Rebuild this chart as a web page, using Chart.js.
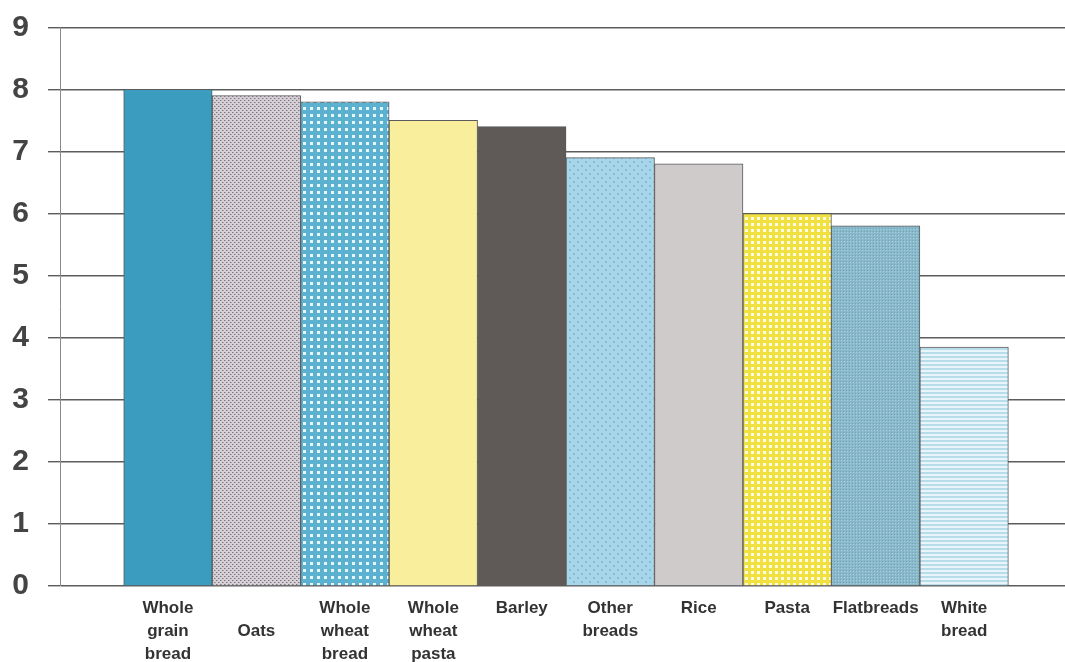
<!DOCTYPE html>
<html>
<head>
<meta charset="utf-8">
<title>Grain foods</title>
<script src="https://cdn.jsdelivr.net/npm/chart.js@4/dist/chart.umd.min.js"></script>
<style>
  html, body { margin: 0; padding: 0; background: #ffffff; }
  #wrap { width: 1065px; height: 662px; }
</style>
</head>
<body>
<div id="wrap"><canvas id="chart" width="1065" height="662"></canvas></div>
<script>
// Categories (multi-line labels) and their scores
const categories = [
  ['Whole', 'grain', 'bread'],
  ['', 'Oats'],
  ['Whole', 'wheat', 'bread'],
  ['Whole', 'wheat', 'pasta'],
  ['Barley'],
  ['Other', 'breads'],
  ['Rice'],
  ['Pasta'],
  ['Flatbreads'],
  ['White', 'bread']
];
const scores = [8.0, 7.9, 7.8, 7.5, 7.4, 6.9, 6.8, 6.0, 5.8, 3.85];
const yTicks = [0, 1, 2, 3, 4, 5, 6, 7, 8, 9];

// Small tiled fills for the textured bars
function makePattern(size, draw) {
  const c = document.createElement('canvas');
  c.width = size[0]; c.height = size[1];
  const g = c.getContext('2d');
  draw(g);
  return g.createPattern(c, 'repeat');
}
const fills = [
  '#3c9cc0',
  makePattern([4, 4], g => {
    g.fillStyle = '#d6d0d6'; g.fillRect(0, 0, 4, 4);
    g.fillStyle = '#7e7882'; g.fillRect(0, 0, 1, 1); g.fillRect(2, 2, 1, 1);
    g.fillStyle = '#aaa4ac'; g.fillRect(1, 0, 1, 1); g.fillRect(3, 2, 1, 1);
  }),
  makePattern([7, 7], g => {
    g.fillStyle = '#5cb1d1'; g.fillRect(0, 0, 7, 7);
    g.fillStyle = '#e6f7fc'; g.fillRect(2, 2, 3, 3);
  }),
  '#f8ee9c',
  '#5f5a58',
  makePattern([8, 8], g => {
    g.fillStyle = '#a7d5ea'; g.fillRect(0, 0, 8, 8);
    g.fillStyle = '#86bcd4'; g.fillRect(1, 1, 2, 2); g.fillRect(5, 5, 2, 2);
  }),
  '#cfcbcb',
  makePattern([6, 6], g => {
    g.fillStyle = '#f0e040'; g.fillRect(0, 0, 6, 6);
    g.fillStyle = '#fffbe2'; g.fillRect(1, 1, 3, 3);
  }),
  makePattern([3, 3], g => {
    g.fillStyle = '#8ab9cb'; g.fillRect(0, 0, 3, 3);
    g.fillStyle = '#6fa5b9'; g.fillRect(0, 0, 1, 1);
    g.fillStyle = '#a9d0de'; g.fillRect(1, 1, 1, 1);
  }),
  makePattern([4, 4], g => {
    g.fillStyle = '#e8f5fa'; g.fillRect(0, 0, 4, 4);
    g.fillStyle = '#b8dcea'; g.fillRect(0, 0, 4, 2);
  })
];

new Chart(document.getElementById('chart'), {
  type: 'bar',
  data: {
    datasets: [{
      data: scores.map((v, i) => ({ x: i, y: v })),
      backgroundColor: fills,
      borderColor: '#5a5a5a',
      borderWidth: 1,
      categoryPercentage: 1,
      barPercentage: 1
    }]
  },
  options: {
    responsive: false,
    animation: false,
    devicePixelRatio: 1,
    layout: { padding: 0 },
    plugins: { legend: { display: false }, tooltip: { enabled: false } },
    scales: {
      x: {
        type: 'linear',
        offset: false,
        bounds: 'data',
        min: -1.22,
        max: 10.14,
        grid: { display: false },
        border: { display: false },
        afterFit: s => { s.height = 76; },
        afterBuildTicks: s => { s.ticks = categories.map((c, i) => ({ value: i })); },
        ticks: {
          autoSkip: false,
          maxRotation: 0,
          padding: 3,
          color: '#333333',
          font: { family: 'Liberation Sans, Arial, sans-serif', size: 17, weight: 'bold', lineHeight: '23px' },
          callback: v => categories[v] || ''
        }
      },
      y: {
        min: yTicks[0],
        max: yTicks[yTicks.length - 1],
        afterFit: s => { s.width = 60; },
        afterBuildTicks: s => { s.ticks = yTicks.map(v => ({ value: v })); },
        grid: { color: '#5c5c5c', lineWidth: 1.4, tickLength: 12 },
        border: { display: true, color: '#8a8a8a', width: 1 },
        ticks: {
          padding: 19,
          color: '#444444',
          font: { family: 'Liberation Sans, Arial, sans-serif', size: 30, weight: 'bold', lineHeight: 0.55 }
        }
      }
    }
  }
});
</script>
</body>
</html>
